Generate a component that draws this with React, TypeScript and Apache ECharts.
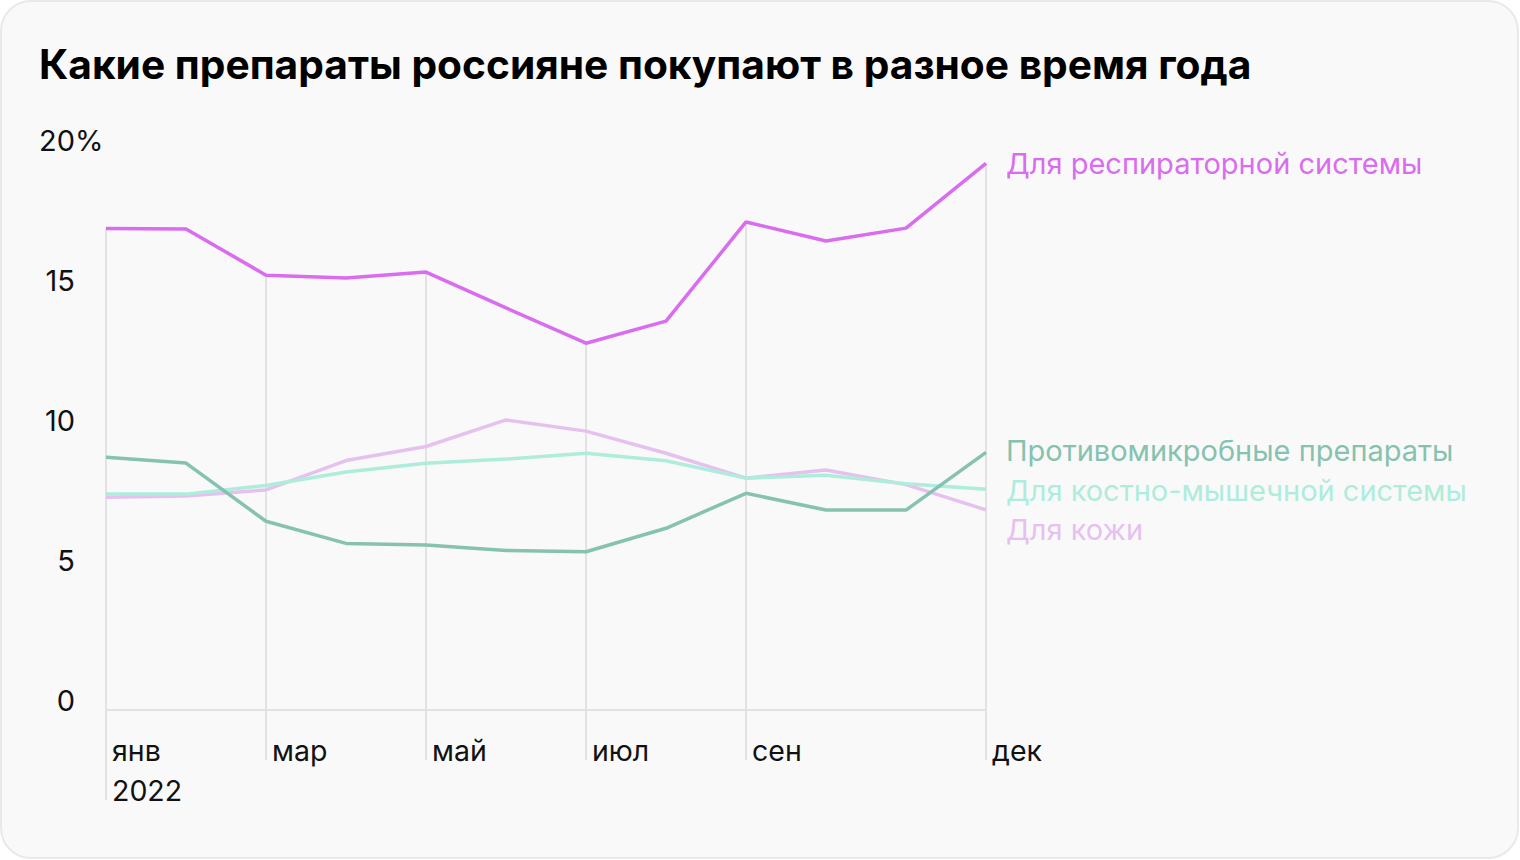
import React, { useEffect, useRef } from "react";
import * as echarts from "echarts";

const TITLE = "Какие препараты россияне покупают в разное время года";
const months = ["янв", "фев", "мар", "апр", "май", "июн", "июл", "авг", "сен", "окт", "ноя", "дек"];
const shownMonthIdx = [0, 2, 4, 6, 8, 11];
const yTicks = [0, 5, 10, 15, 20];

const respiratory = [17.2, 17.18, 15.53, 15.43, 15.64, 14.36, 13.1, 13.89, 17.43, 16.75, 17.21, 19.52];
const antimicrobial = [9.03, 8.82, 6.74, 5.95, 5.89, 5.7, 5.65, 6.49, 7.74, 7.14, 7.14, 9.2];
const musculoskeletal = [7.71, 7.71, 8.02, 8.5, 8.81, 8.96, 9.17, 8.9, 8.28, 8.38, 8.08, 7.88];
const skin = [7.6, 7.64, 7.86, 8.91, 9.41, 10.36, 9.96, 9.17, 8.28, 8.57, 8.05, 7.15];

const seriesNames = [
  "Для кожи",
  "Для костно-мышечной системы",
  "Противомикробные препараты",
  "Для респираторной системы",
];
const seriesColors = ["#e6c1ef", "#aeecdb", "#86c2b0", "#d96cef"];
const seriesData = [skin, musculoskeletal, antimicrobial, respiratory];
const labelOffsets = [[0, 20], [0, 1], [0, -2], [0, 0]];

const FONT = "Inter, 'Noto Sans', sans-serif";

export default function App() {
  const ref = useRef<HTMLDivElement>(null);
  useEffect(() => {
    if (!ref.current) return;
    const chart = echarts.init(ref.current, undefined, { renderer: "svg" });
    const option: any = {
      animation: false,
      backgroundColor: "#ffffff",
      textStyle: { fontFamily: FONT },
      title: {
        text: TITLE,
        left: 39,
        top: 44,
        padding: 0,
        textStyle: { fontFamily: FONT, fontSize: 40.7, fontWeight: 700, color: "#000000" },
      },
      grid: { left: 106, right: 534, top: 150, bottom: 150, containLabel: false },
      xAxis: {
        type: "category",
        data: months,
        boundaryGap: false,
        axisLine: { show: true, lineStyle: { color: "#e2e2e2", width: 2 } },
        axisTick: { show: false },
        splitLine: { show: false },
        axisLabel: {
          interval: (i: number) => shownMonthIdx.includes(i),
          formatter: (v: string, i: number) => (i === 0 ? v + "\n2022" : v),
          align: "left",
          padding: [0, 0, 0, 6],
          margin: 20,
          fontSize: 28.5,
          lineHeight: 40,
          color: "#111111",
          fontFamily: FONT,
        },
      },
      yAxis: {
        type: "value",
        min: 0,
        max: 20,
        interval: 5,
        axisLine: { show: false },
        axisTick: { show: false },
        splitLine: { show: false },
        axisLabel: {
          align: "right",
          verticalAlign: "bottom",
          margin: 31,
          fontSize: 29,
          lineHeight: 28,
          padding: [0, 0, -4, 0],
          color: "#111111",
          fontFamily: FONT,
        },
      },
      series: seriesNames.map((name, k) => ({
        name,
        type: "line",
        data: seriesData[k],
        showSymbol: false,
        symbol: "none",
        z: 3 + k,
        lineStyle: { color: seriesColors[k], width: 3.5 },
        itemStyle: { color: seriesColors[k] },
        endLabel: {
          show: true,
          formatter: name,
          distance: 20,
          offset: labelOffsets[k],
          color: seriesColors[k],
          fontSize: 29,
          fontFamily: FONT,
        },
      })),
    };
    chart.setOption(option);

    const respIdx = 3;
    const zeroY = chart.convertToPixel({ yAxisIndex: 0 }, 0) as number;
    const lines = shownMonthIdx.map((i) => {
      const p = chart.convertToPixel({ seriesIndex: respIdx }, [i, respiratory[i]]) as number[];
      const bottom = zeroY + (i === 0 ? 90 : 50);
      return {
        type: "line",
        z: 1,
        shape: { x1: p[0], y1: p[1], x2: p[0], y2: bottom },
        style: { stroke: "#e2e2e2", lineWidth: 2 },
      };
    });
    const topY = chart.convertToPixel({ yAxisIndex: 0 }, 20) as number;
    chart.setOption({
      graphic: [
        {
          type: "rect",
          z: -10,
          shape: { x: 1, y: 1, width: 1517, height: 857, r: 30 },
          style: { fill: "#f9f9f9", stroke: "#e9e9e9", lineWidth: 2 },
        },
        ...lines,
        {
          type: "text",
          z: 2,
          x: 75,
          y: topY + 4,
          style: {
            text: "%",
            fill: "#111111",
            fontSize: 29,
            fontFamily: FONT,
            verticalAlign: "bottom",
            lineHeight: 28,
          },
        },
      ],
    });
    return () => chart.dispose();
  }, []);
  return (
    <div
      ref={ref}
      style={{ position: "fixed", left: 0, top: 0, width: 1520, height: 860 }}
    />
  );
}
